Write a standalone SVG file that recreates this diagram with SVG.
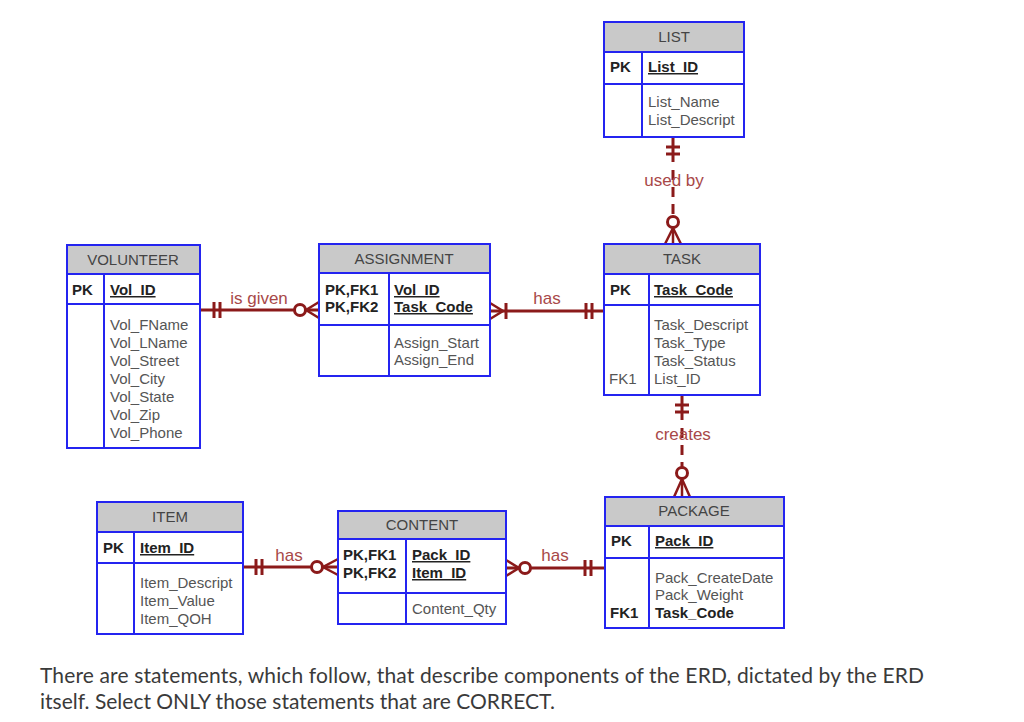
<svg xmlns="http://www.w3.org/2000/svg" width="1024" height="722" viewBox="0 0 1024 722">
<defs>
<style>
.box{fill:#fff;stroke:#2424f0;stroke-width:2}
.hdr{fill:#c9c9c9;stroke:#2424f0;stroke-width:2}
.div{stroke:#2424f0;stroke-width:2;fill:none}
.t{font-family:"Liberation Sans",Arial,sans-serif;font-size:15px;fill:#555}
.h{font-family:"Liberation Sans",Arial,sans-serif;font-size:15px;fill:#444;text-anchor:middle}
.k{font-family:"Liberation Sans",Arial,sans-serif;font-size:15px;fill:#222;font-weight:bold}
.u{text-decoration:underline}
.c{stroke:#8b1a1a;stroke-width:3;fill:none}
.cf{stroke:#8b1a1a;stroke-width:2.5;fill:none}
.o{stroke:#8b1a1a;stroke-width:3;fill:#fff}
.d{stroke:#8b1a1a;stroke-width:3;fill:none;stroke-dasharray:10 7}
.lbl{font-family:"Liberation Sans",Arial,sans-serif;font-size:17px;fill:#a84848;text-anchor:middle}
.q{font-family:Lato,"Liberation Sans",sans-serif;font-size:21px;fill:#3a3a3a}
</style>
</defs>
<rect width="1024" height="722" fill="#fff"/>

<g id="connectors">
  <!-- is given -->
  <line class="c" x1="200" y1="310" x2="319" y2="310"/>
  <line class="c" x1="214" y1="302" x2="214" y2="318"/>
  <line class="c" x1="220" y1="302" x2="220" y2="318"/>
  <polyline class="cf" points="319,302 306,310 319,318"/>
  <circle class="o" cx="300" cy="310" r="5.5"/>
  <text class="lbl" x="259" y="304">is given</text>
  <!-- has assignment-task -->
  <line class="c" x1="490" y1="311" x2="604" y2="311"/>
  <polyline class="cf" points="490,303 503,311 490,319"/>
  <line class="c" x1="506" y1="303" x2="506" y2="319"/>
  <line class="c" x1="586" y1="303" x2="586" y2="319"/>
  <line class="c" x1="592" y1="303" x2="592" y2="319"/>
  <text class="lbl" x="547" y="304">has</text>
  <!-- used by -->
  <line class="c" x1="673" y1="137" x2="673" y2="162"/>
  <line class="d" x1="673" y1="170" x2="673" y2="218"/>
  <line class="c" x1="666" y1="147" x2="680" y2="147"/>
  <line class="c" x1="666" y1="154" x2="680" y2="154"/>
  <polyline class="cf" points="665,244 673,228 681,244"/>
  <line class="cf" x1="673" y1="228" x2="673" y2="244"/>
  <circle class="o" cx="673" cy="222" r="5.5"/>
  <text class="lbl" x="674" y="186">used by</text>
  <!-- creates -->
  <line class="c" x1="682" y1="395" x2="682" y2="420"/>
  <line class="d" x1="682" y1="428" x2="682" y2="468"/>
  <line class="c" x1="675" y1="405" x2="689" y2="405"/>
  <line class="c" x1="675" y1="412" x2="689" y2="412"/>
  <polyline class="cf" points="674,497 682,479 690,497"/>
  <line class="cf" x1="682" y1="479" x2="682" y2="497"/>
  <circle class="o" cx="682" cy="473" r="5.5"/>
  <text class="lbl" x="683" y="440">creates</text>
  <!-- has item-content -->
  <line class="c" x1="243" y1="567" x2="338" y2="567"/>
  <line class="c" x1="256" y1="559" x2="256" y2="575"/>
  <line class="c" x1="262" y1="559" x2="262" y2="575"/>
  <polyline class="cf" points="338,559 323,567 338,575"/>
  <circle class="o" cx="317" cy="567" r="5.5"/>
  <text class="lbl" x="289" y="561">has</text>
  <!-- has content-package -->
  <line class="c" x1="506" y1="568" x2="605" y2="568"/>
  <polyline class="cf" points="506,560 519,568 506,576"/>
  <circle class="o" cx="525" cy="568" r="5.5"/>
  <line class="c" x1="585" y1="560" x2="585" y2="576"/>
  <line class="c" x1="591" y1="560" x2="591" y2="576"/>
  <text class="lbl" x="555" y="561">has</text>
</g>

<g id="list">
  <rect class="box" x="604" y="22" width="140" height="115"/>
  <rect class="hdr" x="604" y="22" width="140" height="30"/>
  <line class="div" x1="604" y1="84" x2="744" y2="84"/>
  <line class="div" x1="642" y1="52" x2="642" y2="137"/>
  <text class="h" x="674" y="42">LIST</text>
  <text class="k" x="610" y="72">PK</text>
  <text class="k u" x="648" y="72">List_ID</text>
  <text class="t" x="648" y="107">List_Name</text>
  <text class="t" x="648" y="125">List_Descript</text>
</g>

<g id="volunteer">
  <rect class="box" x="67" y="245" width="133" height="203"/>
  <rect class="hdr" x="67" y="245" width="133" height="29"/>
  <line class="div" x1="67" y1="304" x2="200" y2="304"/>
  <line class="div" x1="104" y1="274" x2="104" y2="448"/>
  <text class="h" x="133" y="265">VOLUNTEER</text>
  <text class="k" x="72" y="295">PK</text>
  <text class="k u" x="110" y="295">Vol_ID</text>
  <text class="t" x="110" y="330">Vol_FName</text>
  <text class="t" x="110" y="348">Vol_LName</text>
  <text class="t" x="110" y="366">Vol_Street</text>
  <text class="t" x="110" y="384">Vol_City</text>
  <text class="t" x="110" y="402">Vol_State</text>
  <text class="t" x="110" y="420">Vol_Zip</text>
  <text class="t" x="110" y="438">Vol_Phone</text>
</g>

<g id="assignment">
  <rect class="box" x="319" y="244" width="171" height="132"/>
  <rect class="hdr" x="319" y="244" width="171" height="29"/>
  <line class="div" x1="319" y1="325" x2="490" y2="325"/>
  <line class="div" x1="389" y1="273" x2="389" y2="376"/>
  <text class="h" x="404" y="264">ASSIGNMENT</text>
  <text class="k" x="325" y="295">PK,FK1</text>
  <text class="k" x="325" y="312">PK,FK2</text>
  <text class="k u" x="394" y="295">Vol_ID</text>
  <text class="k u" x="394" y="312">Task_Code</text>
  <text class="t" x="394" y="348">Assign_Start</text>
  <text class="t" x="394" y="365">Assign_End</text>
</g>

<g id="task">
  <rect class="box" x="604" y="244" width="156" height="151"/>
  <rect class="hdr" x="604" y="244" width="156" height="30"/>
  <line class="div" x1="604" y1="305" x2="760" y2="305"/>
  <line class="div" x1="649" y1="274" x2="649" y2="395"/>
  <text class="h" x="682" y="264">TASK</text>
  <text class="k" x="610" y="295">PK</text>
  <text class="k u" x="654" y="295">Task_Code</text>
  <text class="t" x="654" y="330">Task_Descript</text>
  <text class="t" x="654" y="348">Task_Type</text>
  <text class="t" x="654" y="366">Task_Status</text>
  <text class="t" x="654" y="384">List_ID</text>
  <text class="t" x="609" y="384">FK1</text>
</g>

<g id="item">
  <rect class="box" x="97" y="502" width="146" height="132"/>
  <rect class="hdr" x="97" y="502" width="146" height="30"/>
  <line class="div" x1="97" y1="563" x2="243" y2="563"/>
  <line class="div" x1="134" y1="532" x2="134" y2="634"/>
  <text class="h" x="170" y="522">ITEM</text>
  <text class="k" x="103" y="553">PK</text>
  <text class="k u" x="140" y="553">Item_ID</text>
  <text class="t" x="140" y="588">Item_Descript</text>
  <text class="t" x="140" y="606">Item_Value</text>
  <text class="t" x="140" y="624">Item_QOH</text>
</g>

<g id="content">
  <rect class="box" x="338" y="511" width="168" height="113"/>
  <rect class="hdr" x="338" y="511" width="168" height="28"/>
  <line class="div" x1="338" y1="593" x2="506" y2="593"/>
  <line class="div" x1="406" y1="539" x2="406" y2="624"/>
  <text class="h" x="422" y="530">CONTENT</text>
  <text class="k" x="343" y="560">PK,FK1</text>
  <text class="k" x="343" y="578">PK,FK2</text>
  <text class="k u" x="412" y="560">Pack_ID</text>
  <text class="k u" x="412" y="578">Item_ID</text>
  <text class="t" x="412" y="614">Content_Qty</text>
</g>

<g id="package">
  <rect class="box" x="605" y="497" width="179" height="131"/>
  <rect class="hdr" x="605" y="497" width="179" height="29"/>
  <line class="div" x1="605" y1="558" x2="784" y2="558"/>
  <line class="div" x1="649" y1="526" x2="649" y2="628"/>
  <text class="h" x="694" y="516">PACKAGE</text>
  <text class="k" x="611" y="546">PK</text>
  <text class="k u" x="655" y="546">Pack_ID</text>
  <text class="t" x="655" y="583">Pack_CreateDate</text>
  <text class="t" x="655" y="600">Pack_Weight</text>
  <text class="k" x="610" y="618">FK1</text>
  <text class="k" x="655" y="618">Task_Code</text>
</g>

<g id="caption">
  <text class="q" x="40" y="683" textLength="884" lengthAdjust="spacing">There are statements, which follow, that describe components of the ERD, dictated by the ERD</text>
  <text class="q" x="40" y="709">itself. Select ONLY those statements that are CORRECT.</text>
</g>
</svg>
